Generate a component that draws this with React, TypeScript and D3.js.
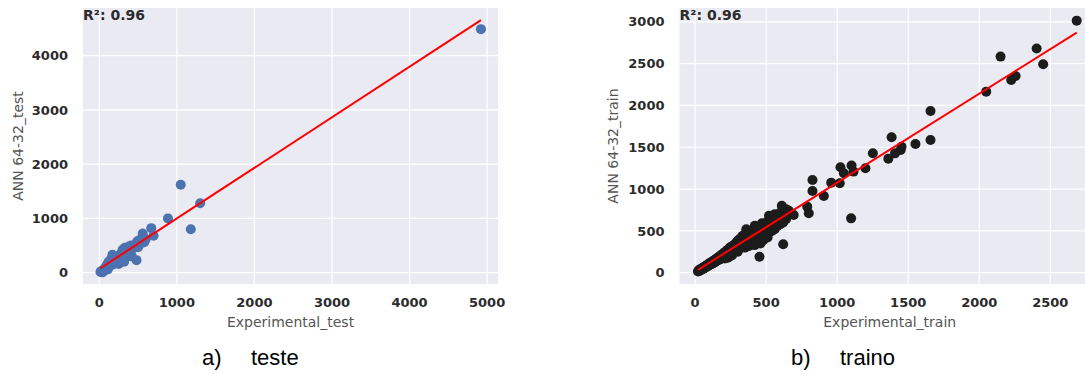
import React from 'react';
import * as d3 from 'd3';

// test set: [experimental, predicted]
const testPoints: [number, number][] = [
  [15, 10], [25, 30], [40, 5], [50, 20], [60, 60], [70, 40], [80, 100], [90, 80],
  [100, 150], [110, 60], [120, 200], [130, 120], [140, 180], [150, 250], [160, 140],
  [170, 330], [180, 220], [190, 160], [200, 280], [210, 190], [230, 300], [240, 220],
  [250, 160], [260, 260], [280, 350], [290, 230], [300, 420], [310, 300], [320, 200],
  [330, 460], [340, 360], [350, 290], [370, 400], [380, 480], [400, 350], [410, 500],
  [420, 300], [440, 450], [460, 520], [480, 230], [490, 580], [500, 470], [520, 600],
  [540, 540], [560, 720], [580, 560], [600, 620], [670, 820], [700, 680], [885, 1000],
  [1050, 1620], [1180, 800], [1300, 1280], [4920, 4490],
];

// train set: [experimental, predicted]
const trainPoints: [number, number][] = [
  [20, 15], [25, 30], [30, 22], [35, 40], [40, 30], [45, 50], [50, 42], [55, 60], [60, 48],
  [65, 70], [70, 62], [75, 80], [80, 70], [85, 95], [90, 78], [95, 100], [100, 90], [105, 118],
  [110, 100], [115, 125], [120, 108], [125, 140], [130, 118], [135, 150], [140, 125], [145, 160],
  [150, 140], [155, 175], [160, 150], [165, 185], [170, 155], [175, 200], [180, 165], [185, 210],
  [190, 175], [195, 225], [200, 185], [205, 240], [210, 195], [215, 250], [220, 200], [225, 270],
  [230, 210], [235, 280], [240, 220], [245, 300], [250, 230], [255, 310], [260, 240], [265, 320],
  [270, 250], [275, 335], [280, 260], [285, 350], [290, 270], [295, 370], [300, 280], [305, 390],
  [310, 290], [315, 400], [320, 300], [325, 420], [330, 310], [335, 440], [340, 320], [345, 450],
  [350, 330], [355, 460], [360, 340], [365, 470], [370, 350], [375, 480], [380, 360], [385, 500],
  [390, 370], [395, 440], [400, 380], [410, 520], [420, 400], [430, 540], [440, 420], [450, 550],
  [460, 440], [470, 560], [480, 450], [490, 520], [500, 470], [510, 560], [520, 480], [530, 580],
  [540, 500], [550, 600], [560, 520], [570, 590], [580, 560], [590, 620], [600, 580], [610, 640],
  [620, 600], [630, 660], [640, 640], [650, 700],
  [180, 190], [220, 230], [260, 280], [300, 320], [340, 360], [380, 400], [420, 450], [460, 480],
  [500, 520], [280, 300], [320, 340], [360, 380], [400, 420], [440, 460], [300, 250], [350, 300],
  [400, 340], [450, 400], [250, 200], [230, 180], [480, 390], [510, 420], [380, 320], [260, 210],
  [210, 170], [420, 330], [440, 360], [460, 350], [360, 520], [420, 560], [470, 590], [500, 600],
  [520, 680], [560, 700], [600, 720], [640, 760], [610, 800], [660, 740], [694, 690],
  [453, 191], [620, 340], [789, 790], [800, 711], [826, 1109], [826, 977], [906, 917],
  [958, 1077], [1018, 1069], [1023, 1261], [1047, 1189], [1101, 1281], [1115, 1209],
  [1098, 650], [1199, 1249], [1251, 1428], [1360, 1364], [1383, 1620], [1407, 1427],
  [1447, 1467], [1453, 1507], [1551, 1539], [1657, 1934], [1657, 1587], [2049, 2165],
  [2150, 2584], [2225, 2305], [2256, 2353], [2404, 2680], [2450, 2493], [2686, 3014],
];

// fitted line: [slope, intercept]
const testFit = [0.933, 67];
const trainFit = [1.064, 13];

const testXTicks = [0, 1000, 2000, 3000, 4000, 5000];
const testYTicks = [0, 1000, 2000, 3000, 4000];
const trainXTicks = [0, 500, 1000, 1500, 2000, 2500];
const trainYTicks = [0, 500, 1000, 1500, 2000, 2500, 3000];

const tickColor = '#2b2b2b';
const labelColor = '#555';
const font = 'DejaVu Sans';

type PanelProps = {
  points: [number, number][];
  fit: number[];
  xDomain: [number, number];
  yDomain: [number, number];
  xRange: [number, number];
  xTicks: number[];
  yTicks: number[];
  xLabel: string;
  yLabel: string;
  yLabelX: number;
  color: string;
};

const Panel = ({points, fit, xDomain, yDomain, xRange, xTicks, yTicks, xLabel, yLabel, yLabelX, color}: PanelProps) => {
  const top = 8;
  const bottom = 284;
  const x = d3.scaleLinear().domain(xDomain).range(xRange);
  const y = d3.scaleLinear().domain(yDomain).range([bottom, top]);
  const [x0, x1] = d3.extent(points, d => d[0]) as [number, number];
  const line = d3.line<number>().x(d => x(d)).y(d => y(fit[0] * d + fit[1]));
  const cx = (xRange[0] + xRange[1]) / 2;

  return (
    <g>
      <rect x={xRange[0]} y={top} width={xRange[1] - xRange[0]} height={bottom - top} fill="#eaeaf2"/>
      {xTicks.map(t => (
        <line key={'gx' + t} x1={x(t)} x2={x(t)} y1={top} y2={bottom} stroke="#fff" strokeWidth={1.2}/>
      ))}
      {yTicks.map(t => (
        <line key={'gy' + t} x1={xRange[0]} x2={xRange[1]} y1={y(t)} y2={y(t)} stroke="#fff" strokeWidth={1.2}/>
      ))}
      {points.map((p, i) => (
        <circle key={i} cx={x(p[0])} cy={y(p[1])} r={5} fill={color}/>
      ))}
      <path d={line([x0, x1]) || ''} stroke="#ff0000" strokeWidth={2} fill="none"/>
      {xTicks.map(t => (
        <text key={'tx' + t} x={x(t)} y={307} textAnchor="middle" fontFamily={font} fontWeight="bold"
              fontSize={13} fill={tickColor}>{t}</text>
      ))}
      {yTicks.map(t => (
        <text key={'ty' + t} x={xRange[0] - 15} y={y(t)} dy="0.36em" textAnchor="end" fontFamily={font}
              fontWeight="bold" fontSize={13} fill={tickColor}>{t}</text>
      ))}
      <text x={xRange[0]} y={20} fontFamily={font} fontWeight="bold" fontSize={14} fill={tickColor}>R²: 0.96</text>
      <text x={cx} y={327} textAnchor="middle" fontFamily={font} fontSize={14} fill={labelColor}>{xLabel}</text>
      <text transform={`translate(${yLabelX},${(top + bottom) / 2}) rotate(-90)`} dy="0.35em" textAnchor="middle"
            fontFamily={font} fontSize={14} fill={labelColor}>{yLabel}</text>
    </g>
  );
};

export default function App() {
  return (
    <svg width={1085} height={374} style={{position: 'absolute', left: 0, top: 0, background: '#fff'}}>
      <Panel points={testPoints} fit={testFit} xDomain={[-210, 5140]} yDomain={[-210, 4880]} xRange={[83, 498]}
             xTicks={testXTicks} yTicks={testYTicks} xLabel="Experimental_test" yLabel="ANN 64-32_test"
             yLabelX={18} color="#4c72b0"/>
      <Panel points={trainPoints} fit={trainFit} xDomain={[-110, 2850]} yDomain={[-135, 3165]} xRange={[679.5, 1100]}
             xTicks={trainXTicks} yTicks={trainYTicks} xLabel="Experimental_train" yLabel="ANN 64-32_train"
             yLabelX={613} color="#1c1c1c"/>
      <text x={202} y={365} fontFamily="Liberation Sans" fontSize={22} fill="#000">a)</text>
      <text x={251} y={365} fontFamily="Liberation Sans" fontSize={22} fill="#000">teste</text>
      <text x={791} y={365} fontFamily="Liberation Sans" fontSize={22} fill="#000">b)</text>
      <text x={840} y={365} fontFamily="Liberation Sans" fontSize={22} fill="#000">traino</text>
    </svg>
  );
}
